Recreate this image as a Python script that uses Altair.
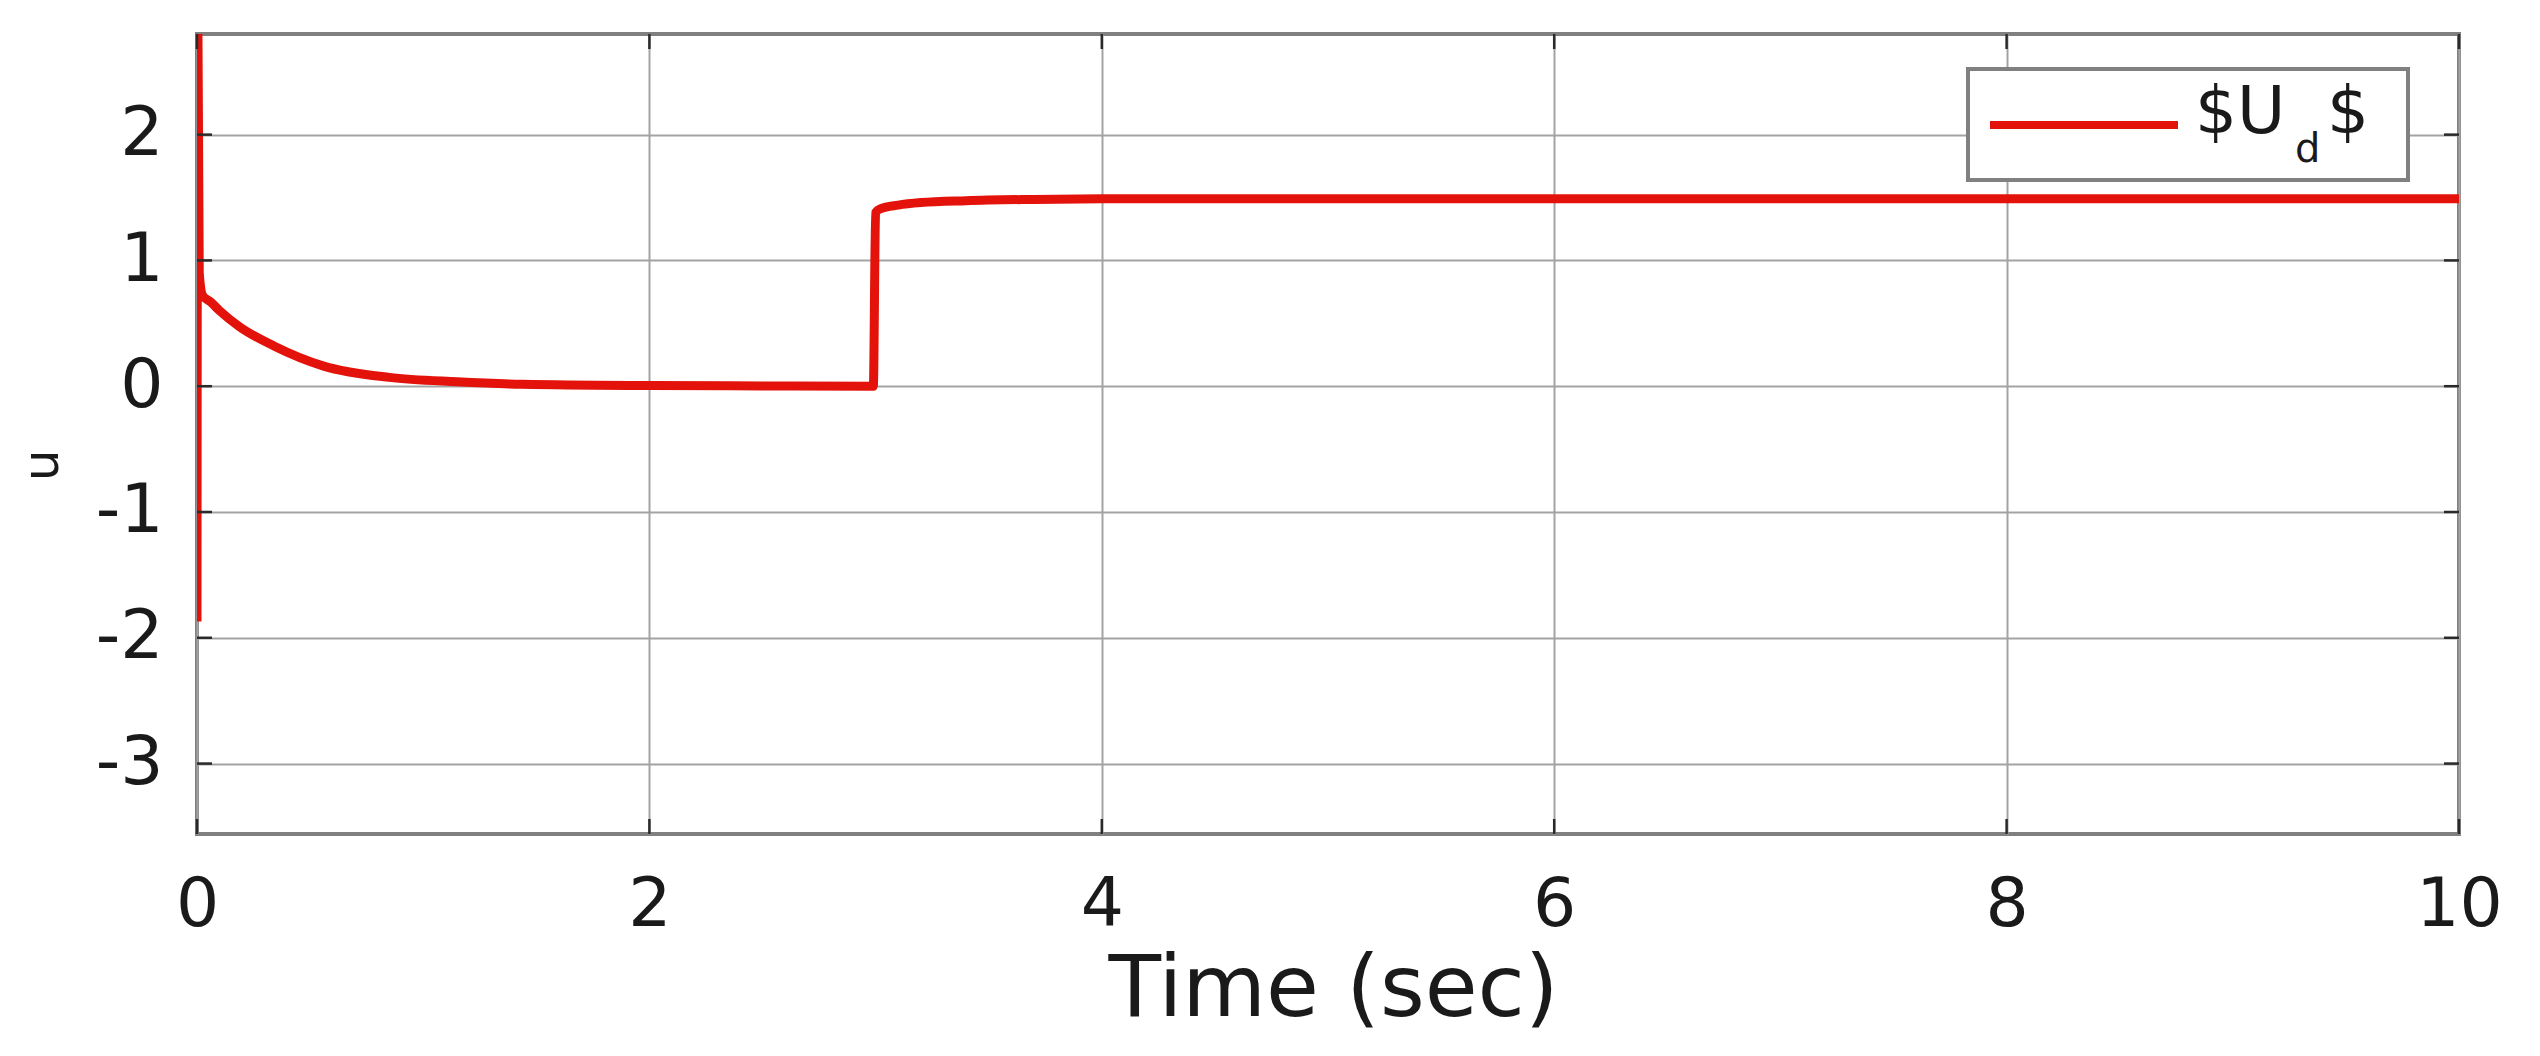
import altair as alt
import pandas as pd

# ---- data ----
t_vals = [0.0, 0.003, 0.01, 0.025, 0.06, 0.1, 0.19, 0.34, 0.56, 0.85, 1.15, 1.44, 2.0, 2.5, 2.99,
          3.0, 3.02, 3.1, 3.2, 3.4, 3.7, 4.0, 5.0, 6.0, 7.0, 8.0, 9.0, 10.0]
u_vals = [-1.87, 3.2, 0.9, 0.72, 0.67, 0.60, 0.47, 0.32, 0.16, 0.07, 0.035, 0.015, 0.005, 0.002, 0.0,
          1.38, 1.41, 1.44, 1.46, 1.475, 1.485, 1.49, 1.49, 1.49, 1.49, 1.49, 1.49, 1.49]
x_ticks = [0, 2, 4, 6, 8, 10]
y_ticks = [-3, -2, -1, 0, 1, 2]
legend_parts = ["$U", "d", "$"]
x_title = "Time (sec)"
y_title = "u"

W, H = 2262, 800
FONT = "DejaVu Sans"
RED = "#e3120b"
TXT = "#1a1a1a"
GRID = "#a3a3a3"

df = pd.DataFrame({"t": t_vals, "u": u_vals})
xt = pd.DataFrame({"t": x_ticks})
yt = pd.DataFrame({"u": y_ticks})
one = pd.DataFrame({"k": [0]})

xscale = alt.Scale(domain=[0, 10], nice=False, zero=False)
yscale = alt.Scale(domain=[-3.56, 2.8], nice=False, zero=False)

xaxis = alt.Axis(values=x_ticks, format="d", grid=True, gridColor=GRID, gridWidth=2,
                 domain=False, ticks=False, tickSize=0, labelFont=FONT, labelFontSize=68,
                 labelColor=TXT, labelPadding=37, labelFlush=False, labelOverlap=False,
                 title=x_title, titleFont=FONT, titleFontSize=86, titleFontWeight="normal",
                 titleColor=TXT, titleBaseline="alphabetic", titleY=181, titleX=1136)
yaxis = alt.Axis(values=y_ticks, grid=True, gridColor=GRID, gridWidth=2,
                 domain=False, ticks=False, tickSize=0, labelFont=FONT, labelFontSize=68,
                 labelColor=TXT, labelPadding=34, labelOverlap=False,
                 labelExpr="datum.value < 0 ? '-' + abs(datum.value) : '' + datum.value",
                 title=y_title, titleFont=FONT, titleFontSize=50, titleFontWeight="normal",
                 titleColor=TXT, titleAngle=270, titleX=-140, titleY=431,
                 titleBaseline="alphabetic", titleAlign="center")

line = alt.Chart(df).mark_line(color=RED, strokeWidth=9, clip=True, strokeJoin="round",
                               interpolate="monotone").encode(
    x=alt.X("t:Q", scale=xscale, axis=xaxis),
    y=alt.Y("u:Q", scale=yscale, axis=yaxis),
)

TICK = "#2a2a2a"
xb = alt.Chart(xt).mark_rule(color=TICK, strokeWidth=2.5).encode(
    x=alt.X("t:Q", scale=xscale, axis=xaxis), y=alt.value(H), y2=alt.value(H - 15))
xtop = alt.Chart(xt).mark_rule(color=TICK, strokeWidth=2.5).encode(
    x=alt.X("t:Q", scale=xscale, axis=xaxis), y=alt.value(0), y2=alt.value(15))
yl = alt.Chart(yt).mark_rule(color=TICK, strokeWidth=2.5).encode(
    y=alt.Y("u:Q", scale=yscale, axis=yaxis), x=alt.value(0), x2=alt.value(15))
yr = alt.Chart(yt).mark_rule(color=TICK, strokeWidth=2.5).encode(
    y=alt.Y("u:Q", scale=yscale, axis=yaxis), x=alt.value(W), x2=alt.value(W - 15))

# ---- legend box ----
box = alt.Chart(one).mark_rect(fill="white", stroke="#808080", strokeWidth=4).encode(
    x=alt.value(1771), x2=alt.value(2211), y=alt.value(35), y2=alt.value(146))
sample = alt.Chart(one).mark_rule(color=RED, strokeWidth=8).encode(
    x=alt.value(1793), x2=alt.value(1981), y=alt.value(91))
lt1 = alt.Chart(one).mark_text(text=legend_parts[0], font=FONT, fontSize=66, align="left",
                               baseline="alphabetic", color=TXT).encode(
    x=alt.value(1998), y=alt.value(99))
lt2 = alt.Chart(one).mark_text(text=legend_parts[1], font=FONT, fontSize=40, align="left",
                               baseline="alphabetic", color=TXT).encode(
    x=alt.value(2098), y=alt.value(128))
lt3 = alt.Chart(one).mark_text(text=legend_parts[2], font=FONT, fontSize=66, align="left",
                               baseline="alphabetic", color=TXT).encode(
    x=alt.value(2130), y=alt.value(99))

chart = alt.layer(line, xb, xtop, yl, yr, box, sample, lt1, lt2, lt3).properties(
    width=W, height=H,
    autosize=alt.AutoSizeParams(type="none"),
    padding={"left": 189, "top": 26, "right": 60, "bottom": 200},
    background="white",
).configure_view(stroke="#808080", strokeWidth=4)

chart.save("out.html", embed_options={"renderer": "svg", "actions": False})
